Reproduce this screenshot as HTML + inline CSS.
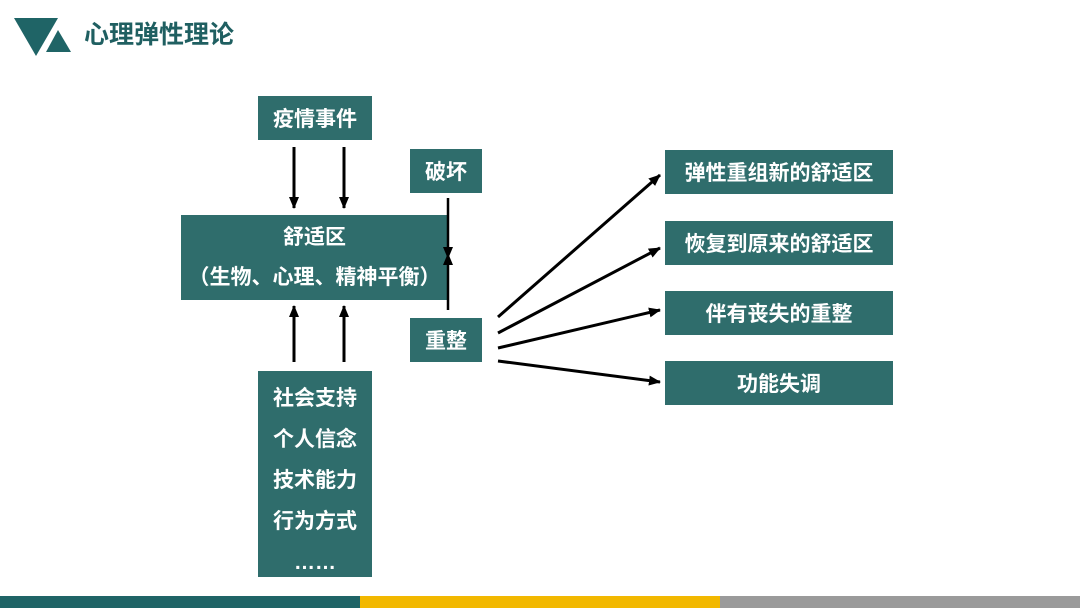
<!DOCTYPE html>
<html><head><meta charset="utf-8"><style>
body{margin:0;width:1080px;height:608px;background:#fff;position:relative;overflow:hidden;font-family:"Liberation Sans","Noto Sans CJK SC",sans-serif;}
.b{position:absolute;background:#2f6d6c;color:#fff;font-weight:bold;font-size:21px;display:flex;align-items:center;justify-content:center;text-align:center;}
.t{position:absolute;left:84px;top:15px;font-size:25px;font-weight:bold;color:#1f5f61;}
svg{position:absolute;left:0;top:0;z-index:2}
</style></head><body>
<div class="t">心理弹性理论</div>
<div class="b" style="left:258px;top:96px;width:114px;height:44px">疫情事件</div>
<div class="b" style="left:181px;top:215px;width:267px;height:85px;flex-direction:column;line-height:40px">舒适区<br>（生物、心理、精神平衡）</div>
<div class="b" style="left:410px;top:149px;width:72px;height:44px">破坏</div>
<div class="b" style="left:410px;top:318px;width:72px;height:44px">重整</div>
<div class="b" style="left:258px;top:371px;width:114px;height:206px;line-height:41px;padding-top:12px;box-sizing:border-box">社会支持<br>个人信念<br>技术能力<br>行为方式<br>……</div>
<div class="b" style="left:665px;top:150px;width:228px;height:44px">弹性重组新的舒适区</div>
<div class="b" style="left:665px;top:221px;width:228px;height:44px">恢复到原来的舒适区</div>
<div class="b" style="left:665px;top:291px;width:228px;height:44px">伴有丧失的重整</div>
<div class="b" style="left:665px;top:361px;width:228px;height:44px">功能失调</div>
<svg width="1080" height="608">
<polygon points="14,18 58,18 36,56" fill="#1f6466"/>
<polygon points="58,30 71,52 46,52" fill="#1f6466"/>
<rect x="0" y="596" width="360" height="12" fill="#1f6466"/>
<rect x="360" y="596" width="360" height="12" fill="#f2b800"/>
<rect x="720" y="596" width="360" height="12" fill="#9a9a9a"/>
<defs><marker id="c" markerWidth="12" markerHeight="10" refX="11" refY="5" orient="auto" markerUnits="userSpaceOnUse"><path d="M0,0 L12,5 L0,10 z" fill="#000"/></marker></defs>
<g stroke="#000" stroke-width="3" fill="none">
<line x1="294" y1="147" x2="294" y2="208" marker-end="url(#c)"/>
<line x1="344" y1="147" x2="344" y2="208" marker-end="url(#c)"/>
<line x1="294" y1="362" x2="294" y2="306" marker-end="url(#c)"/>
<line x1="344" y1="362" x2="344" y2="306" marker-end="url(#c)"/>
<line x1="448" y1="198" x2="448" y2="258" marker-end="url(#c)" stroke-width="2.5"/>
<line x1="448" y1="310" x2="448" y2="254" marker-end="url(#c)" stroke-width="2.5"/>
<line x1="498" y1="317" x2="660" y2="175" marker-end="url(#c)"/>
<line x1="498" y1="333" x2="660" y2="248" marker-end="url(#c)"/>
<line x1="498" y1="348" x2="660" y2="310" marker-end="url(#c)"/>
<line x1="498" y1="361" x2="660" y2="382" marker-end="url(#c)"/>
</g></svg>
</body></html>
